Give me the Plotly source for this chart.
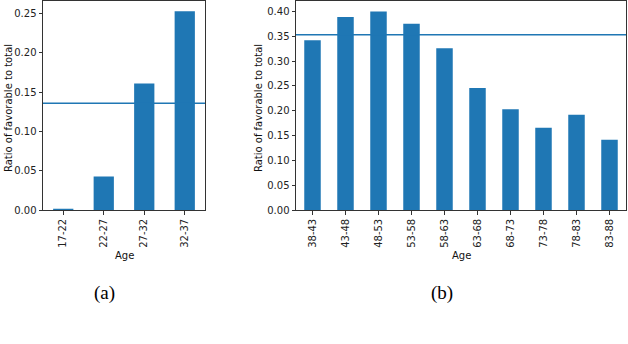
import plotly.graph_objects as go

# panel (a)
ages_a = ['17-22', '22-27', '27-32', '32-37']
ratio_a = [0.002, 0.043, 0.161, 0.253]
mean_a = 0.136

# panel (b)
ages_b = ['38-43', '43-48', '48-53', '53-58', '58-63',
          '63-68', '68-73', '73-78', '78-83', '83-88']
ratio_b = [0.342, 0.389, 0.400, 0.375, 0.326, 0.246, 0.203, 0.166, 0.192, 0.142]
mean_b = 0.353

W, H = 628, 344
blue = '#1f77b4'
tick_font = dict(family='DejaVu Sans', size=10, color='#222')


def px_x(p):
    return p / W


def px_y(p):
    return 1 - p / H


fig = go.Figure()
fig.add_trace(go.Bar(x=ages_a, y=ratio_a, width=0.5, marker=dict(color=blue, line=dict(width=0)),
                     xaxis='x', yaxis='y'))
fig.add_trace(go.Bar(x=ages_b, y=ratio_b, width=0.5, marker=dict(color=blue, line=dict(width=0)),
                     xaxis='x2', yaxis='y2'))

# mean lines
fig.add_shape(type='line', xref='x domain', yref='y', x0=0, x1=1, y0=mean_a, y1=mean_a,
              line=dict(color=blue, width=1.5))
fig.add_shape(type='line', xref='x2 domain', yref='y2', x0=0, x1=1, y0=mean_b, y1=mean_b,
              line=dict(color=blue, width=1.5))

axis_common = dict(showline=True, mirror=True, linecolor='#333', linewidth=1,
                   ticks='outside', ticklen=3.5, tickcolor='#333', tickfont=tick_font,
                   showgrid=False, zeroline=False)

fig.update_layout(
    width=W, height=H,
    margin=dict(l=0, r=0, t=0, b=0),
    paper_bgcolor='white', plot_bgcolor='white',
    showlegend=False,
    xaxis=dict(domain=[px_x(43), px_x(205)], anchor='y', tickangle=-90,
               range=[-0.5, 3.5], **axis_common),
    yaxis=dict(domain=[px_y(214), px_y(1)], anchor='x', range=[0, 0.266],
               tickvals=[0, 0.05, 0.10, 0.15, 0.20, 0.25], tickformat='.2f', **axis_common),
    xaxis2=dict(domain=[px_x(296), px_x(626)], anchor='y2', tickangle=-90,
                range=[-0.5, 9.5], **axis_common),
    yaxis2=dict(domain=[px_y(214), px_y(1)], anchor='x2', range=[0, 0.421],
                tickvals=[0, 0.05, 0.10, 0.15, 0.20, 0.25, 0.30, 0.35, 0.40],
                tickformat='.2f', **axis_common),
)

label_font = dict(family='DejaVu Sans', size=10, color='#111')
cap_font = dict(family='Liberation Serif', size=19, color='black')

for xc, yc in [(8, 110), (258, 110)]:
    fig.add_annotation(text='Ratio of favorable to total', x=px_x(xc), y=px_y(yc),
                       xref='paper', yref='paper', showarrow=False, textangle=-90,
                       font=label_font, xanchor='center', yanchor='middle')
for xc in [124, 461]:
    fig.add_annotation(text='Age', x=px_x(xc), y=px_y(260), xref='paper', yref='paper',
                       showarrow=False, font=label_font, xanchor='center', yanchor='middle')
for xc, lab in [(104, '(a)'), (442, '(b)')]:
    fig.add_annotation(text=lab, x=px_x(xc), y=px_y(298), xref='paper', yref='paper',
                       showarrow=False, font=cap_font, xanchor='center', yanchor='middle')

# the page body has a default margin; drop it so the figure sits at the window corner
fig.write_html('out.html', config={'displayModeBar': False},
               post_script="document.body.style.margin='0';")
